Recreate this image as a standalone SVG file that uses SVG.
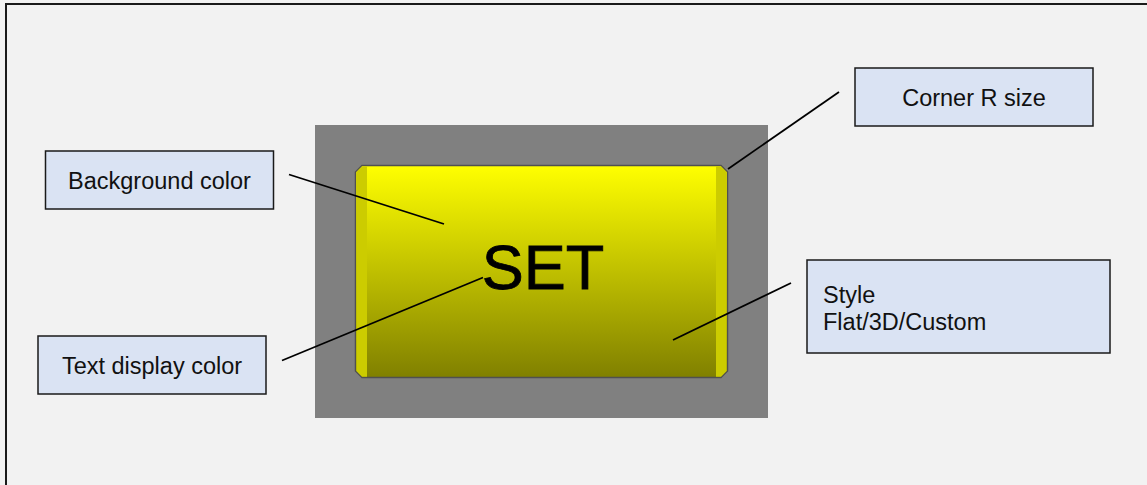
<svg xmlns="http://www.w3.org/2000/svg" width="1147" height="485" viewBox="0 0 1147 485">
<defs>
<linearGradient id="btn" x1="0" y1="0" x2="0" y2="1">
<stop offset="0" stop-color="#ffff00"/>
<stop offset="1" stop-color="#808000"/>
</linearGradient>
<style>
.box{fill:#dae3f3;stroke:#1a1a1a;stroke-width:1.5}
.lbl{font-family:"Liberation Sans",Arial,sans-serif;font-size:23.5px;fill:#111}
.con{stroke:#000;stroke-width:1.8;fill:none}
</style>
</defs>
<rect x="0" y="0" width="1147" height="485" fill="#f2f2f2"/>
<rect x="6" y="4" width="1160" height="500" fill="none" stroke="#1a1a1a" stroke-width="2"/>
<g id="button">
<rect x="315" y="125" width="453" height="293" fill="#808080"/>
<polygon points="362,165.5 721,165.5 727.5,172 727.5,371 721,377.5 362,377.5 355.5,371 355.5,172" fill="url(#btn)" stroke="#505050" stroke-width="1.5"/>
<polygon points="362,166.3 367,166.3 367,376.7 362,376.7 356.3,371 356.3,172" fill="#cccc00"/>
<polygon points="716,166.3 721,166.3 726.7,172 726.7,371 721,376.7 716,376.7" fill="#cccc00"/>
<text x="543" y="289" text-anchor="middle" font-family="'Liberation Sans',Arial,sans-serif" font-size="63" fill="#000" stroke="#000" stroke-width="0.8">SET</text>
</g>
<g id="bg-color">
<rect class="box" x="45.5" y="151" width="228" height="58"/>
<text class="lbl" x="159.5" y="188.5" text-anchor="middle">Background color</text>
</g>
<g id="text-color">
<rect class="box" x="38" y="336" width="228" height="58"/>
<text class="lbl" x="152" y="374" text-anchor="middle">Text display color</text>
</g>
<g id="corner">
<rect class="box" x="855" y="68" width="238" height="58"/>
<text class="lbl" x="974" y="106" text-anchor="middle">Corner R size</text>
</g>
<g id="style">
<rect class="box" x="807" y="260" width="303" height="93"/>
<text class="lbl" x="823" y="302.5">Style</text>
<text class="lbl" x="823" y="329.5">Flat/3D/Custom</text>
</g>
<g id="connectors">
<line class="con" x1="289" y1="174.5" x2="444" y2="224"/>
<line class="con" x1="282" y1="360.5" x2="483" y2="277.5"/>
<line class="con" x1="728" y1="169" x2="839" y2="92"/>
<line class="con" x1="673" y1="340" x2="791" y2="283"/>
</g>
</svg>
